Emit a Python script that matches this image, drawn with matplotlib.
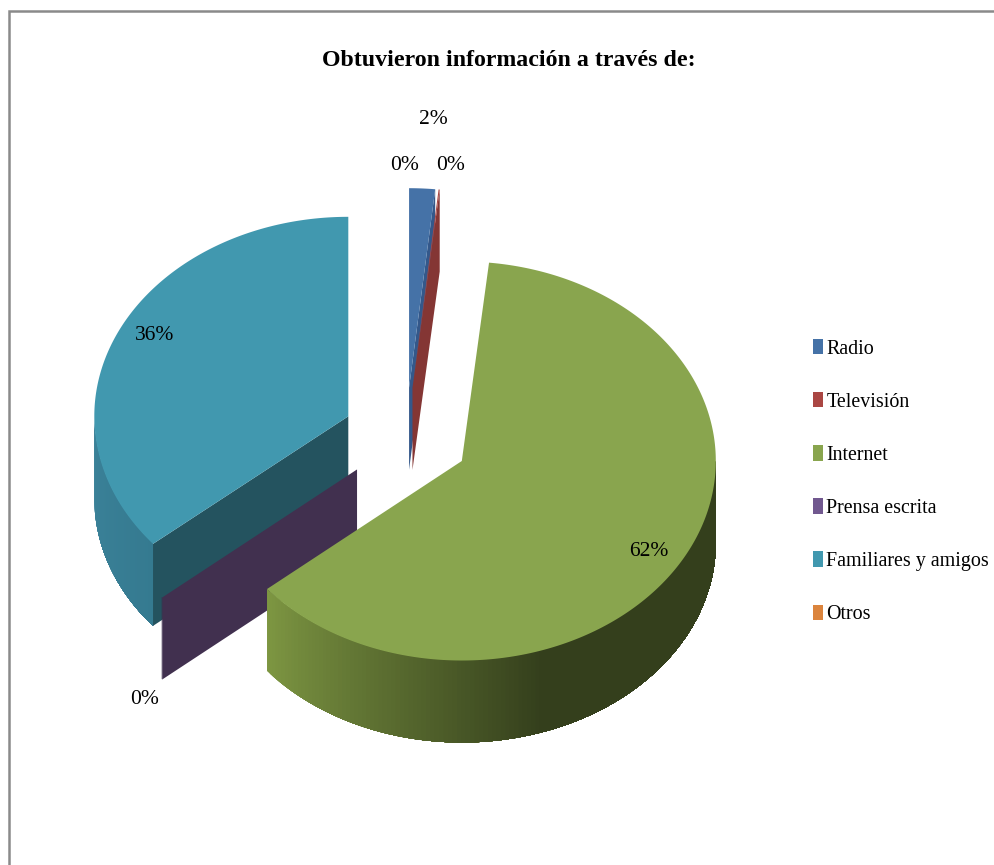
import numpy as np
import matplotlib
matplotlib.use("Agg")
import matplotlib.pyplot as plt
from matplotlib.patches import Patch
from matplotlib.colors import to_rgb

plt.rcParams['font.family'] = ['Liberation Serif', 'DejaVu Serif']

title = "Obtuvieron información a través de:"
categories = ["Radio", "Televisión", "Internet", "Prensa escrita", "Familiares y amigos", "Otros"]
values = [1.64, 0.07, 62.2, 0.05, 36.04, 0.0]
shown = ["2%", "0%", "62%", "0%", "36%", "0%"]

top_colors = ["#4572A7", "#AA4643", "#89A54E", "#71588F", "#4198AF", "#DB843D"]
face_colors = ["#34588A", "#843634", "#5F7536", "#41304F", "#24535F", "#A5622C"]
side_light = ["#3F6A9C", "#9A3F3C", "#7D9642", "#5A4676", "#3B8299", "#C87A38"]
side_dark = ["#2E5078", "#7A3230", "#343F1C", "#3A2C4A", "#357A90", "#8A5426"]
legend_colors = ["#4572A7", "#AA4643", "#89A54E", "#71588F", "#4198AF", "#DB843D"]

label_pos = [(433, 120), (451, 165), (649, 551), (145, 700), (155, 335), (405, 165)]

CX, CY, RX, RY, DEPTH, EXPLODE = 405.8, 437.5, 254, 199.5, 82, 0.25

fig = plt.figure(figsize=(9.94, 8.65), dpi=100, facecolor="white")
ax = fig.add_axes([0, 0, 1, 1])
ax.set_xlim(0, 994)
ax.set_ylim(865, 0)
ax.axis("off")


def rim(cx, cy, t):
    r = np.radians(t)
    return cx + RX * np.sin(r), cy - RY * np.cos(r)


def poly(pts, color, z):
    xs, ys = zip(*pts)
    ax.fill(xs, ys, facecolor=color, edgecolor="none", linewidth=0, zorder=z)


def mix(a, b, f):
    a, b = np.array(to_rgb(a)), np.array(to_rgb(b))
    return tuple(a + (b - a) * f)


def wall_shade(i, t):
    # Internet darkens quickly towards the front; the others stay nearly flat
    f = (230 - t) / 68 if i == 2 else (270 - t) / 40
    return np.clip(f, 0, 1)


def draw_slice(i, t0, t1, z):
    mid = (t0 + t1) / 2
    r = np.radians(mid)
    cx = CX + EXPLODE * RX * np.sin(r)
    cy = CY - EXPLODE * RY * np.cos(r)
    if 180 < t0 < 360:
        x, y = rim(cx, cy, t0)
        poly([(cx, cy), (x, y), (x, y + DEPTH), (cx, cy + DEPTH)], face_colors[i], z)
    if 0 < t1 < 180:
        x, y = rim(cx, cy, t1)
        poly([(cx, cy), (x, y), (x, y + DEPTH), (cx, cy + DEPTH)], face_colors[i], z)
    a, b = max(t0, 90), min(t1, 270)
    if b > a:
        # each piece reaches to the far end of the wall, so no seams show
        steps = np.arange(b, a, -1.0)
        for s in steps:
            ts = np.linspace(a, s, max(2, int(s - a) + 2))
            upper = [rim(cx, cy, t) for t in ts]
            lower = [(x, y + DEPTH) for x, y in upper[::-1]]
            poly(upper + lower, mix(side_light[i], side_dark[i], wall_shade(i, s)), z + 0.1)
    if t1 - t0 > 0.2:
        ts = np.linspace(t0, t1, max(2, int(t1 - t0) * 2 + 2))
        poly([(cx, cy)] + [rim(cx, cy, t) for t in ts], top_colors[i], z + 0.2)


edges = np.concatenate([[0], np.cumsum(values)]) * 360 / sum(values)
order = {0: 1, 1: 2, 5: 3, 4: 4, 3: 5, 2: 6}
for i, z in order.items():
    if values[i] > 0:
        draw_slice(i, edges[i], edges[i + 1], z)

for s, (x, y) in zip(shown, label_pos):
    ax.text(x, y, s, ha="center", va="center", fontsize=15.5, color="black", zorder=10)

ax.text(508.5, 61, title, ha="center", va="center", fontsize=17.2, fontweight="bold", color="black")

handles = [Patch(facecolor=c, edgecolor="none", label=n) for c, n in zip(legend_colors, categories)]
ax.legend(handles=handles, loc="upper left", bbox_to_anchor=(805, 331), bbox_transform=ax.transData,
          frameon=False, fontsize=14.4, labelspacing=1.675, handlelength=0.52, handleheight=0.8,
          handletextpad=0.15, borderpad=0, borderaxespad=0.4, labelcolor="black")

ax.plot([8.5, 8.5, 994], [865, 11, 11], color="#8A8A8A", lw=1.8, solid_joinstyle="miter", zorder=0)

fig.savefig("out.png", dpi=100, facecolor="white")
